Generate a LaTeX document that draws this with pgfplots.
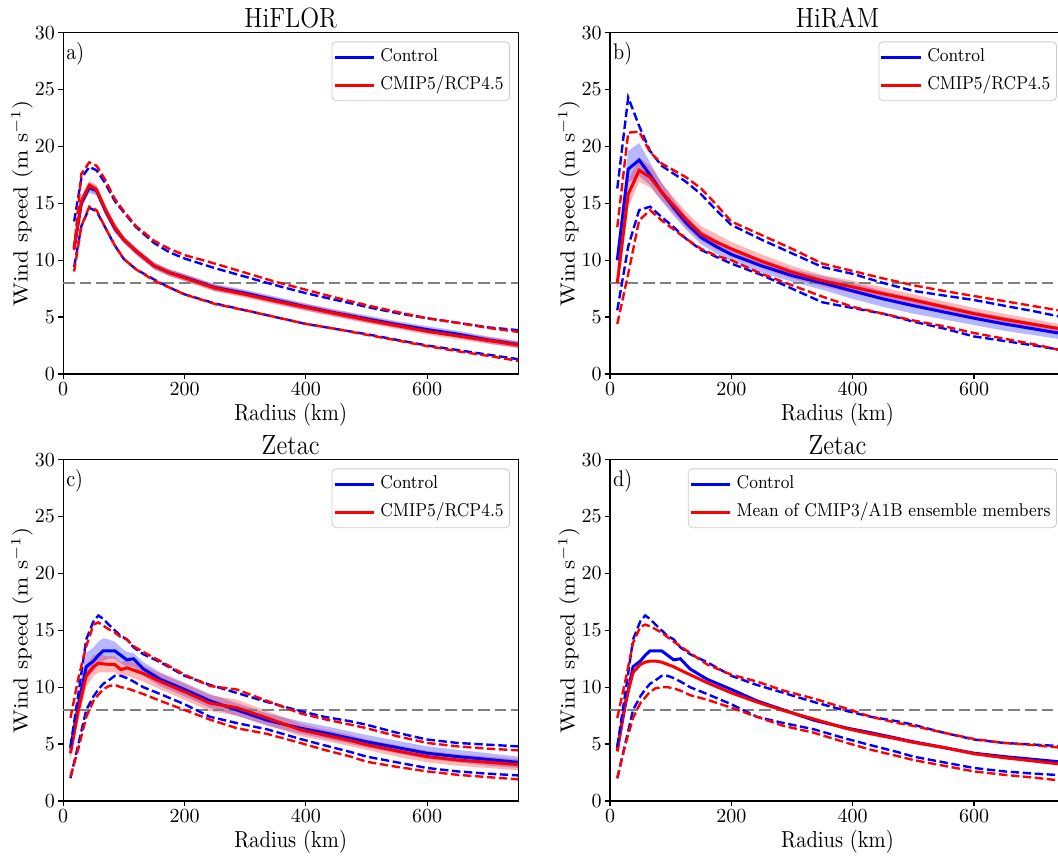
\documentclass[border=0pt]{standalone}
\usepackage{graphicx}
\usepackage{pgfplots}
\pgfplotsset{compat=1.18}
\usepackage{pgfplotstable}
\usepgfplotslibrary{fillbetween}

% r: radius (km); b*: Control; r*: warming; m median, bl/bh shaded band, p1/p9 dashed percentiles
\pgfplotstableread{
r bm bbl bbh bp1 bp9 rm rbl rbh rp1 rp9
18 11.0 10.7 11.3 9.4 13.4 11.1 10.8 11.4 9.0 10.9
30 15.0 14.6 15.4 13.0 17.2 15.2 14.8 15.6 13.0 17.6
43 16.4 15.9 16.8 14.6 18.2 16.6 16.1 17.0 14.7 18.6
55 16.1 15.7 16.5 14.3 17.9 16.2 15.8 16.6 14.4 18.3
70 14.3 13.9 14.7 12.8 16.7 14.4 14.0 14.8 12.8 17.0
85 12.8 12.4 13.2 11.3 15.2 12.9 12.5 13.3 11.3 15.4
100 11.8 11.5 12.1 10.1 14.2 11.8 11.5 12.1 10.1 14.3
120 10.8 10.5 11.1 9.2 12.9 10.8 10.5 11.1 9.2 13.0
150 9.5 9.2 9.8 8.3 11.5 9.5 9.2 9.8 8.2 11.7
175 8.9 8.6 9.2 7.6 10.7 8.9 8.6 9.2 7.6 11.0
200 8.5 8.2 8.8 7.0 10.15 8.45 8.15 8.75 7.0 10.45
250 7.6 7.3 7.9 6.2 9.3 7.55 7.25 7.85 6.15 9.7
300 7.1 6.8 7.4 5.6 8.55 7.0 6.7 7.3 5.6 8.9
350 6.5 6.2 6.8 5.0 7.8 6.4 6.1 6.7 5.0 8.1
400 5.9 5.6 6.2 4.4 7.1 5.85 5.55 6.15 4.4 7.4
450 5.35 5.05 5.65 3.95 6.5 5.3 5.0 5.6 3.95 6.7
500 4.85 4.55 5.15 3.5 5.9 4.75 4.45 5.05 3.45 6.05
550 4.35 4.05 4.65 3.0 5.35 4.25 3.95 4.55 2.95 5.45
600 3.9 3.6 4.2 2.5 4.9 3.75 3.45 4.05 2.45 4.9
650 3.5 3.2 3.8 2.1 4.5 3.35 3.05 3.65 2.0 4.5
700 3.0 2.7 3.3 1.7 4.1 2.95 2.65 3.25 1.6 4.05
750 2.6 2.3 2.9 1.3 3.85 2.55 2.25 2.85 1.15 3.7
}\tabA

\pgfplotstableread{
r bm bbl bbh bp1 bp9 rm rbl rbh rp1 rp9
12 10.0 9.0 10.8 5.6 16.3 8.0 7.0 9.0 4.4 12.9
30 18.0 16.8 19.6 11.2 24.3 15.8 14.6 17.0 8.8 21.2
48 18.8 17.4 20.3 14.4 21.8 17.9 16.9 19.0 13.5 21.3
66 17.5 16.6 18.6 14.7 19.6 17.3 16.4 18.3 14.4 19.5
85 16.0 15.2 16.8 13.8 18.3 16.0 15.3 16.8 13.5 18.5
105 14.6 13.9 15.3 12.9 17.6 14.8 14.1 15.5 12.7 17.9
125 13.3 12.7 13.9 11.9 16.9 13.6 12.9 14.3 11.9 17.3
150 12.0 11.4 12.6 10.9 15.8 12.3 11.7 13.0 11.0 16.3
175 11.2 10.6 11.8 10.3 14.4 11.6 11.0 12.3 10.4 14.9
200 10.5 9.9 11.1 9.7 13.1 11.0 10.4 11.6 10.0 13.4
250 9.5 8.9 10.1 8.7 11.8 9.9 9.3 10.5 8.8 12.2
300 8.65 8.1 9.2 7.5 10.6 8.95 8.4 9.5 7.8 11.0
350 8.0 7.4 8.6 6.3 9.4 8.2 7.7 8.7 6.8 9.7
400 7.3 6.6 8.0 5.8 8.8 7.65 7.1 8.2 5.9 9.05
450 6.6 5.9 7.3 5.3 8.0 7.05 6.5 7.6 5.3 8.4
500 6.0 5.3 6.7 4.6 7.3 6.5 6.0 7.0 4.7 7.8
550 5.45 4.8 6.1 4.0 6.9 5.9 5.4 6.4 4.2 7.3
600 4.9 4.3 5.5 3.3 6.5 5.3 4.8 5.8 3.6 6.85
650 4.4 3.8 5.0 2.9 6.0 4.8 4.3 5.3 3.1 6.4
700 3.95 3.4 4.5 2.5 5.5 4.35 3.9 4.8 2.6 5.95
750 3.5 3.0 4.0 2.05 4.95 3.9 3.5 4.3 2.0 5.5
}\tabB

\pgfplotstableread{
r bm bbl bbh bp1 bp9 rm rbl rbh rp1 rp9
12 4.6 4.0 5.2 2.0 4.8 4.2 3.6 4.8 2.15 7.3
25 8.4 7.4 9.6 5.0 9.4 8.0 7.0 9.0 4.6 10.8
38 11.8 10.8 13.0 8.0 14.2 11.0 10.0 12.0 7.4 13.6
50 12.3 11.4 13.5 9.2 15.8 11.8 11.0 12.8 8.8 15.5
58 12.8 12.0 14.0 9.8 16.3 12.1 11.3 12.9 9.35 15.7
66 13.2 12.3 14.3 10.3 16.0 12.05 11.3 12.8 9.8 15.4
75 13.2 12.5 14.2 10.6 15.5 12.0 11.3 12.7 10.1 15.1
85 13.2 12.5 14.0 11.0 15.0 12.0 11.3 12.7 10.2 14.8
95 12.8 12.1 13.5 11.0 14.5 11.55 10.9 12.2 10.0 14.4
105 12.4 11.8 13.1 10.8 14.2 11.7 11.0 12.4 9.9 14.2
116 12.5 11.8 13.0 10.5 13.5 11.5 10.8 12.2 9.7 13.6
132 11.6 11.0 12.2 10.0 12.9 11.2 10.5 11.9 9.4 13.1
160 10.7 10.1 11.3 9.4 12.2 10.5 9.8 11.2 8.8 12.3
200 9.8 9.2 10.4 8.5 11.0 9.6 8.9 10.3 8.0 11.1
242 8.8 8.2 9.4 7.4 10.2 8.6 7.9 9.3 7.15 10.1
286 8.0 7.5 8.6 6.85 9.5 8.2 7.5 8.9 6.4 9.8
336 7.1 6.6 7.7 6.3 8.7 7.3 6.7 7.9 5.9 8.8
391 6.4 5.9 7.0 5.45 7.9 6.25 5.7 6.8 5.1 7.7
430 6.0 5.5 6.6 4.9 7.4 5.8 5.3 6.3 4.5 7.2
474 5.5 5.0 6.1 4.3 7.0 5.3 4.8 5.8 3.9 6.7
500 5.2 4.7 5.8 3.9 6.7 4.95 4.5 5.4 3.45 6.4
550 4.7 4.2 5.3 3.4 6.0 4.4 3.9 4.9 3.0 5.7
600 4.2 3.7 4.8 2.9 5.4 3.9 3.4 4.4 2.6 5.1
650 3.9 3.4 4.5 2.6 5.1 3.6 3.1 4.1 2.3 4.8
700 3.65 3.1 4.2 2.4 4.95 3.4 2.9 3.9 2.1 4.6
750 3.4 2.9 3.9 2.25 4.8 3.2 2.7 3.7 1.9 4.45
}\tabC

\pgfplotstableread{
r bm bp1 bp9 rm rp1 rp9
12 4.6 2.0 4.8 4.35 2.0 7.3
25 8.4 5.0 9.4 8.6 4.9 10.5
38 11.8 8.0 14.2 11.3 7.3 13.9
50 12.3 9.2 15.8 12.0 8.6 15.3
58 12.8 9.8 16.3 12.2 9.1 15.5
66 13.2 10.3 16.0 12.3 9.6 15.35
75 13.2 10.6 15.5 12.3 9.9 15.1
85 13.2 11.0 15.0 12.2 10.0 14.8
95 12.8 11.0 14.5 12.0 10.0 14.4
105 12.4 10.8 14.2 11.8 9.9 14.0
116 12.5 10.5 13.5 11.5 9.7 13.6
132 11.6 10.0 12.9 11.1 9.3 13.0
160 10.7 9.4 12.2 10.4 8.9 12.0
200 9.8 8.5 11.0 9.5 8.2 11.1
242 8.8 7.4 10.2 8.7 7.4 10.5
286 8.0 6.85 9.5 7.95 6.6 9.7
336 7.1 6.3 8.7 7.2 6.0 9.0
391 6.4 5.45 7.9 6.35 5.1 8.1
430 6.0 4.9 7.4 5.9 4.5 7.4
474 5.5 4.3 7.0 5.45 3.95 6.85
500 5.2 3.9 6.7 5.15 3.6 6.6
550 4.7 3.4 6.0 4.7 3.1 6.0
600 4.2 2.9 5.4 4.15 2.6 5.45
650 3.9 2.6 5.1 3.8 2.3 5.1
700 3.65 2.4 4.95 3.5 2.05 4.9
750 3.4 2.25 4.8 3.2 1.75 4.65
}\tabD

\newcommand{\vs}[1]{\scalebox{1}[1.13]{#1}}
\newcommand{\hs}[1]{\scalebox{1.13}[1]{#1}}

\tikzset{plab/.style={anchor=north west, inner sep=0pt, font=\fontsize{10}{12}\selectfont}}

\pgfplotsset{
  every axis title/.style={at={(axis description cs:0.5,1)}, anchor=base, yshift=2.5pt, inner sep=0pt, font=\fontsize{12.4}{14}\selectfont},
  panel/.style={
    scale only axis, width=227.5pt, height=170.7pt,
    anchor=south west,
    xmin=0, xmax=750, ymin=0, ymax=30,
    xtick={0,200,400,600}, ytick={0,5,10,15,20,25,30},
    tick align=outside, tick pos=left,
    major tick length=2.7pt,
    every tick/.style={black, line width=0.6pt},
    axis line style={line width=0.7pt},
    ticklabel style={font=\fontsize{10}{12}\selectfont, inner sep=1.3pt},
    xlabel={\vs{Radius (km)}},
    ylabel={\hs{Wind speed (m s$^{-1}$)}},
    xlabel style={at={(axis description cs:0.5,-0.1365)}, anchor=base, font=\fontsize{10.25}{12}\selectfont, inner sep=0pt},
    ylabel style={at={(axis description cs:-0.078,0.5)}, anchor=base, font=\fontsize{10.25}{12}\selectfont, inner sep=0pt},
    legend style={at={(rel axis cs:0.982,0.974)}, anchor=north east, draw=black!20, fill=white, fill opacity=0.8, text opacity=1, rounded corners=2pt, font=\fontsize{8.2}{10}\selectfont, inner xsep=0.5pt, inner ysep=0.6pt, row sep=0pt, nodes={inner xsep=2.5pt, inner ysep=2.8pt, text height=6.5pt, text depth=2pt}},
    legend cell align=left,
    legend image code/.code={\draw[##1, line width=1.5pt] (0pt,0pt) -- (19.7pt,0pt);},
  },
  med/.style={line width=1.5pt},
  pct/.style={line width=1.2pt, dash pattern=on 4.2pt off 1.8pt},
  ref8/.style={color={rgb,1:red,0.5;green,0.5;blue,0.5}, line width=1.2pt, dash pattern=on 5.8pt off 2.5pt, forget plot},
}

\newcommand{\bandpanel}[3]{%
  \addplot[name path=bl, draw=none, forget plot] table[x=r,y=bbl]{#1};
  \addplot[name path=bh, draw=none, forget plot] table[x=r,y=bbh]{#1};
  \addplot[blue, fill opacity=0.28, draw=none, forget plot] fill between[of=bl and bh];
  \addplot[name path=rl, draw=none, forget plot] table[x=r,y=rbl]{#1};
  \addplot[name path=rh, draw=none, forget plot] table[x=r,y=rbh]{#1};
  \addplot[red, fill opacity=0.28, draw=none, forget plot] fill between[of=rl and rh];
  \addplot[ref8] coordinates {(0,8) (750,8)};
  \addplot[blue, med] table[x=r,y=bm]{#1};
  \addlegendentry{\vs{#2}}
  \addplot[red, med] table[x=r,y=rm]{#1};
  \addlegendentry{\vs{#3}}
  \addplot[blue, pct, forget plot] table[x=r,y=bp1]{#1};
  \addplot[blue, pct, forget plot] table[x=r,y=bp9]{#1};
  \addplot[red, pct, forget plot] table[x=r,y=rp1]{#1};
  \addplot[red, pct, forget plot] table[x=r,y=rp9]{#1};
}

\begin{document}
\begin{tikzpicture}

\begin{axis}[panel, at={(31.6pt,240.5pt)}, title={\scalebox{1}[1.12]{HiFLOR}}]
\bandpanel{\tabA}{Control}{CMIP5/RCP4.5}
\node[plab] at (rel axis cs:0.006,0.971) {\vs{a)}};
\end{axis}

\begin{axis}[panel, at={(305pt,240.5pt)}, title={\scalebox{1}[1.12]{HiRAM}}]
\bandpanel{\tabB}{Control}{CMIP5/RCP4.5}
\node[plab] at (rel axis cs:0.006,0.971) {\vs{b)}};
\end{axis}

\begin{axis}[panel, at={(31.6pt,27pt)}, title={\scalebox{1}[1.12]{Zetac}}]
\bandpanel{\tabC}{Control}{CMIP5/RCP4.5}
\node[plab] at (rel axis cs:0.006,0.971) {\vs{c)}};
\end{axis}

\begin{axis}[panel, at={(305pt,27pt)}, title={\scalebox{1}[1.12]{Zetac}}]
\addplot[ref8] coordinates {(0,8) (750,8)};
\addplot[blue, med] table[x=r,y=bm]{\tabD};
\addlegendentry{\vs{Control}}
\addplot[red, med] table[x=r,y=rm]{\tabD};
\addlegendentry{\vs{Mean of CMIP3/A1B ensemble members}}
\addplot[blue, pct, forget plot] table[x=r,y=bp1]{\tabD};
\addplot[blue, pct, forget plot] table[x=r,y=bp9]{\tabD};
\addplot[red, pct, forget plot] table[x=r,y=rp1]{\tabD};
\addplot[red, pct, forget plot] table[x=r,y=rp9]{\tabD};
\node[plab] at (rel axis cs:0.006,0.971) {\vs{d)}};
\end{axis}

\pgfresetboundingbox
\path[use as bounding box] (0,0) rectangle (529pt,427.5pt);
\end{tikzpicture}
\end{document}
